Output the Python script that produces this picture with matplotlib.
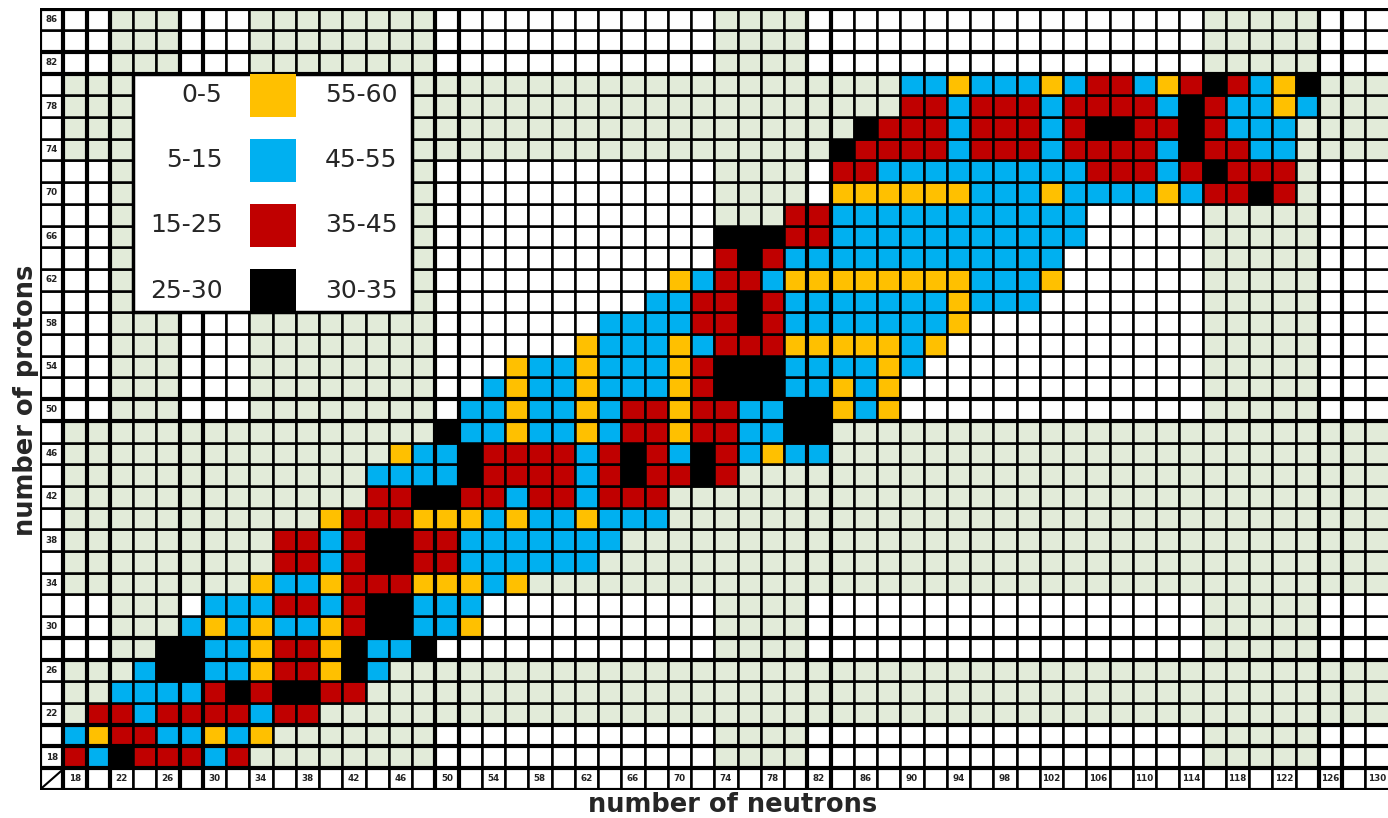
import numpy as np
import matplotlib
matplotlib.use('Agg')
import matplotlib.pyplot as plt
from matplotlib.colors import ListedColormap
from matplotlib.patches import Rectangle

# ---------------- data ----------------
neutrons = list(range(18, 131, 2))          # columns (even N)
protons = list(range(18, 87, 2))            # rows (even Z)
neutron_ticks = list(range(18, 131, 4))
proton_ticks = list(range(18, 87, 4))
shell_bands = [(22, 26), (34, 48), (74, 80), (116, 124)]   # shaded bands
magic_numbers = [20, 28, 50, 82, 126]

legend_left = ['0-5', '5-15', '15-25', '25-30']
legend_right = ['55-60', '45-55', '35-45', '30-35']
class_codes = ['Y', 'B', 'R', 'K']
class_colors = ['#FFC000', '#00B0F0', '#C00000', '#000000']
background_colors = ['#FFFFFF', '#E2EBD9']

row_protons = [18, 20, 22, 24, 26, 28, 30, 32, 34, 36, 38, 40, 42, 44, 46, 48,
               50, 52, 54, 56, 58, 60, 62, 64, 66, 68, 70, 72, 74, 76, 78, 80]
row_first_neutron = [18, 18, 20, 22, 24, 26, 28, 30, 34, 36, 36, 40, 44, 44, 46, 50,
                     52, 54, 56, 62, 64, 68, 70, 74, 74, 80, 84, 84, 84, 86, 90, 90]
row_classes = [
    "RBKRRRBR",
    "BYRRBBYBY",
    "RRBRRRRBRR",
    "BBBBRKRKKRR",
    "BKKBBYRRYKB",
    "KKBBYRRYKBBK",
    "BYBYBBYRKKBBY",
    "BBBRRBRKKBBB",
    "YBBYRRRYYYBY",
    "RRBRKKRRBBBBBB",
    "RRBRKKRRBBBBBBB",
    "YRRRYYYBYBBYBBB",
    "RRKKRRBRRBRRR",
    "BBBBKRRRRBRKRRKR",
    "YBBKRRRRBRKRBKRBYBB",
    "KBBYBBYBRRYRRBBKK",
    "BBYBBYBRRYRRBBKKYBY",
    "BYBBYBBBYRKKKBBYBY",
    "YBBYBBBYRKKKBBBBYB",
    "YBBBYBRRRYYYYYBY",
    "BBBBRRKRBBBBBBBY",
    "BBRRKRBBBBBBBYBBB",
    "YBRRBYYYYYYYYBBBY",
    "RKRBBBBBBBBBBBB",
    "KKKRRBBBBBBBBBBB",
    "RRBBBBBBBBBBB",
    "YYYYYYBBBYBBBBYBRRKR",
    "RRBBBBBBBBBRRRBRKRRR",
    "KRRRRBRRRBRRRRBKRRBB",
    "KRRRBRRRBRKKRRKRBBB",
    "RRBRRRBRRRRBKRBBYB",
    "BBYBBBYBRRBYRKRBYK",
]

# ---------------- build cell matrix ----------------
ncol = len(neutrons) + 1   # + label column
nrow = len(protons) + 1    # + label row


def in_band(v):
    return any(lo <= v <= hi for lo, hi in shell_bands)


M = np.zeros((nrow, ncol), dtype=int)
for r, Z in enumerate(protons, start=1):
    for c, N in enumerate(neutrons, start=1):
        M[r, c] = 1 if (in_band(Z) or in_band(N)) else 0

for Z, N0, s in zip(row_protons, row_first_neutron, row_classes):
    r = protons.index(Z) + 1
    c0 = neutrons.index(N0) + 1
    for k, ch in enumerate(s):
        M[r, c0 + k] = 2 + class_codes.index(ch)

cmap = ListedColormap(background_colors + class_colors)

# ---------------- figure ----------------
W, H = 1388, 818
fig = plt.figure(figsize=(W / 100, H / 100), dpi=100)
ax = fig.add_axes([40 / W, 28.3 / H, 1348.5 / W, 781.2 / H])
ax.pcolormesh(np.arange(ncol + 1), np.arange(nrow + 1), M, cmap=cmap,
              vmin=-0.5, vmax=len(background_colors) + len(class_colors) - 0.5,
              edgecolors='black', linewidth=1.8, antialiased=True)
ax.set_xlim(0, ncol)
ax.set_ylim(0, nrow)
ax.axis('off')

# thicker lines around magic numbers
for m in magic_numbers:
    if m in protons:
        r = protons.index(m) + 1
        ax.hlines([r, r + 1], 0, ncol, colors='black', linewidth=3.0, zorder=3)
    if m in neutrons:
        c = neutrons.index(m) + 1
        ax.vlines([c, c + 1], 0, nrow, colors='black', linewidth=3.0, zorder=3)
ax.hlines([1, nrow], 0, ncol, colors='black', linewidth=3.0, zorder=3)
ax.vlines([0, 1], 0, nrow, colors='black', linewidth=3.0, zorder=3)
ax.hlines([0], 0, ncol, colors='black', linewidth=3.0, zorder=3)
ax.plot([0.1, 0.95], [0.1, 0.9], color='black', linewidth=1.5, zorder=4)

# tick labels inside the label row / column
for N in neutron_ticks:
    c = neutrons.index(N) + 1
    ax.text(c + 0.5, 0.5, str(N), ha='center', va='center', fontsize=6.3,
            fontweight='bold', color='#222222', zorder=5)
for Z in proton_ticks:
    r = protons.index(Z) + 1
    ax.text(0.5, r + 0.5, str(Z), ha='center', va='center', fontsize=6.3,
            fontweight='bold', color='#222222', zorder=5)

# legend box laid over the grid
ax.add_patch(Rectangle((4, 22), 12, 11, facecolor='white', edgecolor='black',
                       linewidth=2.5, zorder=6))
for k, (lt, rt, col) in enumerate(zip(legend_left, legend_right, class_colors)):
    y0 = 31 - 3 * k
    ax.add_patch(Rectangle((9.02, y0 + 0.02), 1.98, 1.96, facecolor=col,
                           edgecolor='none', zorder=7))
    ax.text(7.85, y0 + 1, lt, ha='right', va='center', fontsize=18,
            color='#262626', zorder=8)
    ax.text(12.25, y0 + 1, rt, ha='left', va='center', fontsize=18,
            color='#262626', zorder=8)

fig.text(733 / W, 1 - 805 / H, 'number of neutrons', ha='center', va='center',
         fontsize=18.5, fontweight='bold', color='#262626')
fig.text(26 / W, 1 - 400 / H, 'number of protons', ha='center', va='center',
         rotation=90, fontsize=18.5, fontweight='bold', color='#262626')

fig.savefig('out.png', dpi=100)
